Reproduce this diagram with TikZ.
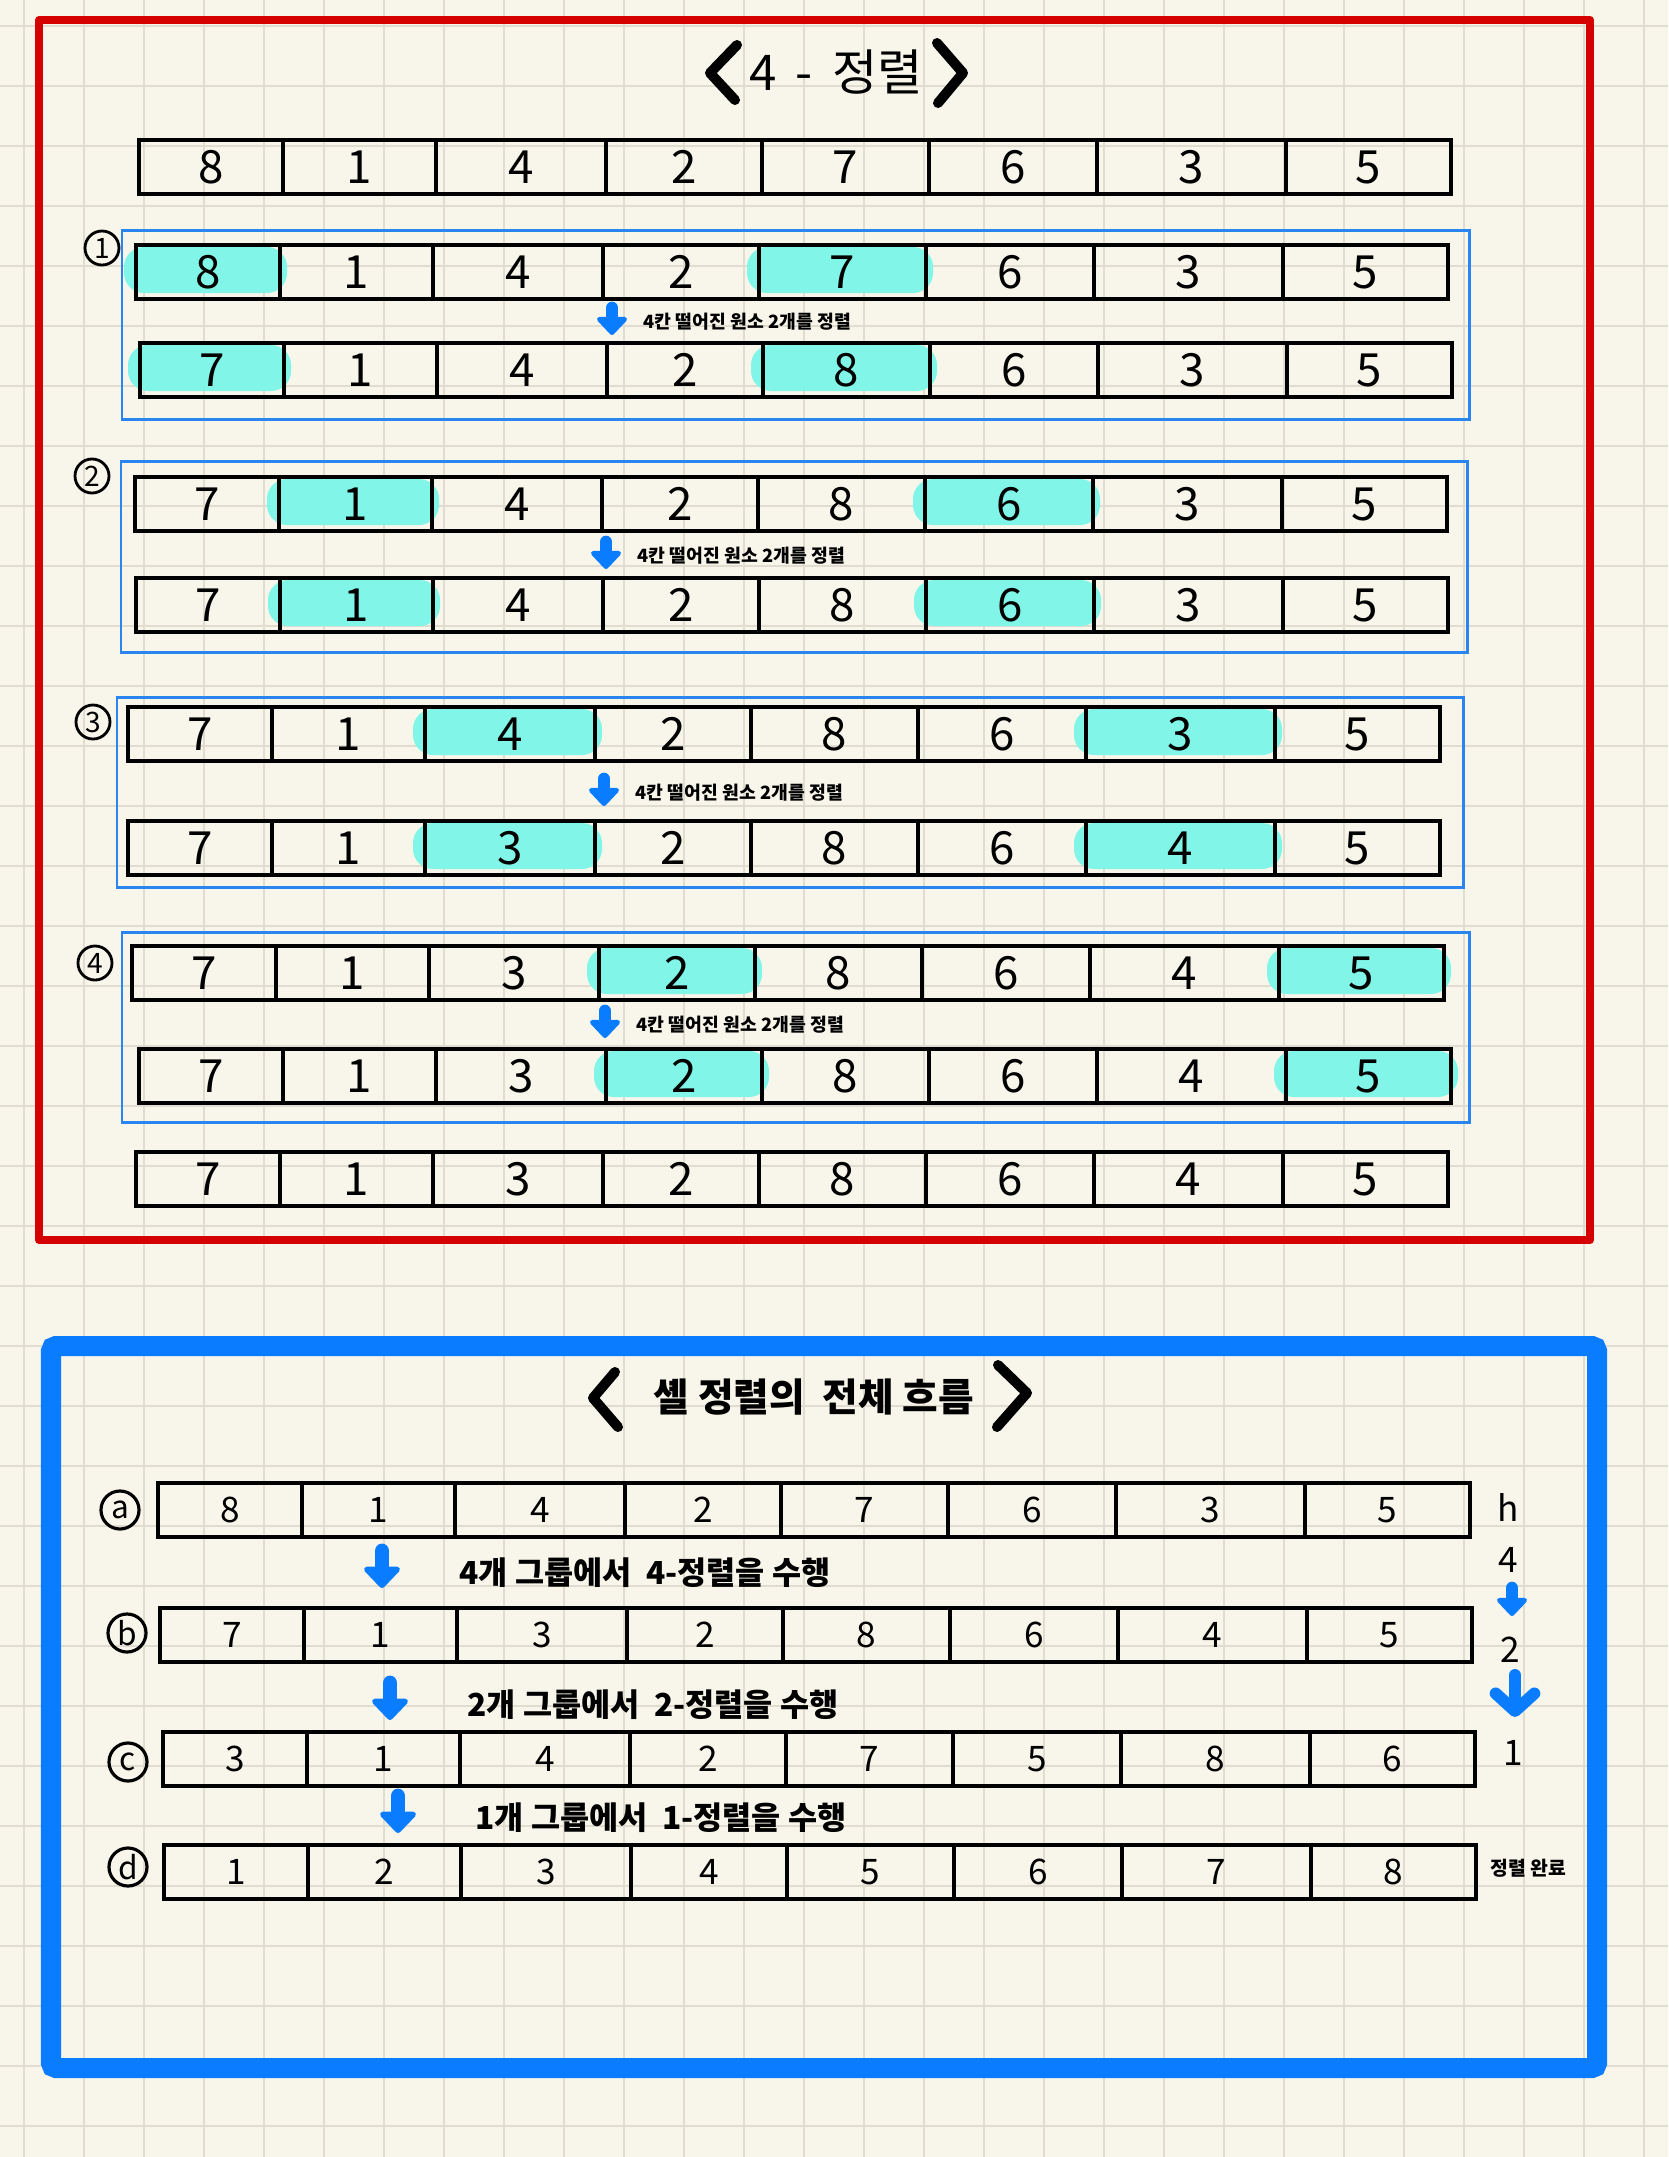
\documentclass[tikz,border=0pt]{standalone}
\usepackage{fontspec}
\usetikzlibrary{arrows.meta}
\newfontfamily\kr{Noto Sans CJK KR}
\definecolor{paper}{RGB}{248,245,234}
\definecolor{gridc}{RGB}{224,220,208}
\definecolor{redb}{RGB}{213,0,0}
\definecolor{blueb}{RGB}{10,124,255}
\definecolor{grpb}{RGB}{42,133,240}
\definecolor{hlc}{RGB}{128,245,232}
\def\edge{{0,144,297,467,623,790,958,1147,1312}}
\tikzset{%
    gln/.style={draw=gridc, line width=0.5pt},
    cel/.style={rectangle, draw, line width=0.9pt, inner sep=0pt, outer sep=0pt, minimum height=0.54cm, font=\kr\fontsize{13}{13}\selectfont},
    celb/.style={cel, font=\kr\fontsize{10}{10}\selectfont},
    hl/.style={fill=hlc, rounded corners=0.2cm},
    grp/.style={draw=grpb, line width=0.85pt},
    chev/.style={line width=0.1cm, line cap=round, line join=round},
    cir/.style={circle, draw, line width=0.8pt, minimum size=0.34cm, inner sep=0pt, font=\kr\fontsize{8}{8}\selectfont},
    cirb/.style={cir, line width=0.9pt, minimum size=0.38cm, font=\kr\fontsize{9}{9}\selectfont},
    nte/.style={anchor=west, inner sep=0pt, font=\kr\bfseries\fontsize{5.2}{5.2}\selectfont},
    stp/.style={anchor=west, inner sep=0pt, font=\kr\bfseries\fontsize{9}{9}\selectfont},
    lbl/.style={inner sep=0pt, font=\kr\fontsize{10}{10}\selectfont},
    dna/.style={draw=blueb, fill=blueb, line width=3.6pt, line cap=round, -{Triangle[round, width=10pt, length=5.5pt]}},
    dnb/.style={dna, line width=4.2pt, -{Triangle[round, width=12pt, length=6.5pt]}},
    vna/.style={draw=blueb, line width=3.4pt, line cap=round, -{Straight Barb[round, width=11pt, length=5pt]}},
}
\newcommand{\cellrow}[5]{%
    \foreach \val [count=\i] in {#5} {
        \pgfmathsetmacro{\xa}{\edge[\i-1]}
        \pgfmathsetmacro{\xb}{\edge[\i]}
        \pgfmathsetmacro{\cw}{(\xb-\xa)/100}
        \node[#1, minimum width=\cw cm] (#2-\i) at ({#3+(\xa+\xb)/2},{#4+27}) {\val};
    }
}
\newcommand{\hilite}[3]{%
    \pgfmathsetmacro{\ha}{\edge[#3-1]}
    \pgfmathsetmacro{\hb}{\edge[#3]}
    \fill[hl] ({#1+\ha-12},{#2+2}) rectangle ({#1+\hb+7},{#2+48});
}
\begin{document}
\begin{tikzpicture}[x=0.01cm, y=-0.01cm]
    \useasboundingbox (0,0) rectangle (1668,2157);
    \fill[paper] (0,0) rectangle (1668,2157);
    \foreach \gx in {24,84,...,1644} \draw[gln] (\gx,0) -- (\gx,2157);
    \foreach \gy in {26,86,...,2126} \draw[gln] (0,\gy) -- (1668,\gy);

    \draw[draw=redb, line width=0.08cm, line join=round] (39,20) rectangle (1590,1240);
    \node[font=\kr\fontsize{14}{14}\selectfont] (tt) at (836,72) {4 \,-\, 정렬};
    \draw[chev] (737,45) -- (710,73) -- (735,100);
    \draw[chev] (937,43) -- (963,73) -- (938,103);

    \draw[grp] (122,230) rectangle (1469,419);
    \draw[grp] (121,461) rectangle (1467,652);
    \draw[grp] (117,697) rectangle (1463,887);
    \draw[grp] (122,932) rectangle (1469,1122);
    \node[cir] (n1) at (102,248) {1};
    \node[cir] (n2) at (92,476) {2};
    \node[cir] (n3) at (93,722) {3};
    \node[cir] (n4) at (95,963) {4};

    \hilite{136}{245}{1} \hilite{136}{245}{5}
    \hilite{140}{343}{1} \hilite{140}{343}{5}
    \hilite{135}{477}{2} \hilite{135}{477}{6}
    \hilite{136}{578}{2} \hilite{136}{578}{6}
    \hilite{128}{707}{3} \hilite{128}{707}{7}
    \hilite{128}{821}{3} \hilite{128}{821}{7}
    \hilite{132}{946}{4} \hilite{132}{946}{8}
    \hilite{139}{1049}{4} \hilite{139}{1049}{8}

    \cellrow{cel}{r0}{139}{140}{8,1,4,2,7,6,3,5}
    \cellrow{cel}{r1a}{136}{245}{8,1,4,2,7,6,3,5}
    \cellrow{cel}{r1b}{140}{343}{7,1,4,2,8,6,3,5}
    \cellrow{cel}{r2a}{135}{477}{7,1,4,2,8,6,3,5}
    \cellrow{cel}{r2b}{136}{578}{7,1,4,2,8,6,3,5}
    \cellrow{cel}{r3a}{128}{707}{7,1,4,2,8,6,3,5}
    \cellrow{cel}{r3b}{128}{821}{7,1,3,2,8,6,4,5}
    \cellrow{cel}{r4a}{132}{946}{7,1,3,2,8,6,4,5}
    \cellrow{cel}{r4b}{139}{1049}{7,1,3,2,8,6,4,5}
    \cellrow{cel}{r5}{136}{1152}{7,1,3,2,8,6,4,5}

    \foreach \n/\ax/\ay in {1/612/320, 2/606/554, 3/604/791, 4/605/1023}{
        \coordinate (s\n) at (\ax,{\ay-12});
        \coordinate (e\n) at (\ax,{\ay+15});
        \draw[dna] (s\n) -- (e\n);
        \node[nte] (t\n) at ({\ax+31},{\ay+2}) {4칸 떨어진 원소 2개를 정렬};
    }

    \draw[draw=blueb, line width=0.2cm, rounded corners=0.05cm] (51,1346) rectangle (1597,2068);
    \node[font=\kr\bfseries\fontsize{11}{11}\selectfont] (bt) at (814,1397) {셸 정렬의 \ 전체 흐름};
    \draw[chev] (615,1372) -- (593,1398) -- (618,1427);
    \draw[chev] (998,1365) -- (1027,1393) -- (997,1427);

    \node[cirb] (na) at (120,1510) {a};
    \node[cirb] (nb) at (127,1633) {b};
    \node[cirb] (nc) at (128,1762) {c};
    \node[cirb] (nd) at (128,1867) {d};

    \cellrow{celb}{fa}{158}{1483}{8,1,4,2,7,6,3,5}
    \cellrow{celb}{fb}{160}{1608}{7,1,3,2,8,6,4,5}
    \cellrow{celb}{fc}{163}{1732}{3,1,4,2,7,5,8,6}
    \cellrow{celb}{fd}{164}{1845}{1,2,3,4,5,6,7,8}

    \foreach \n/\ax/\ay/\k in {1/382/1568/4, 2/390/1700/2, 3/398/1813/1}{
        \coordinate (u\n) at (\ax,{\ay-17});
        \coordinate (w\n) at (\ax,{\ay+20});
        \draw[dnb] (u\n) -- (w\n);
        \node[stp] (g\n) at ({\ax+77},{\ay+5}) {{\k}개 그룹에서 \ {\k}-정렬을 수행};
    }

    \node[lbl] (kh) at (1508,1507) {h};
    \node[lbl] (k4) at (1508,1560) {4};
    \node[lbl] (k2) at (1510,1650) {2};
    \node[lbl] (k1) at (1513,1753) {1};
    \coordinate (h1) at (1512,1588);
    \coordinate (h2) at (1512,1616);
    \coordinate (h3) at (1515,1675);
    \coordinate (h4) at (1515,1717);
    \draw[dna] (h1) -- (h2);
    \draw[vna] (h3) -- (h4);
    \node[inner sep=0pt, font=\kr\bfseries\fontsize{5.5}{5.5}\selectfont] (done) at (1528,1868) {정렬 완료};
\end{tikzpicture}
\end{document}
